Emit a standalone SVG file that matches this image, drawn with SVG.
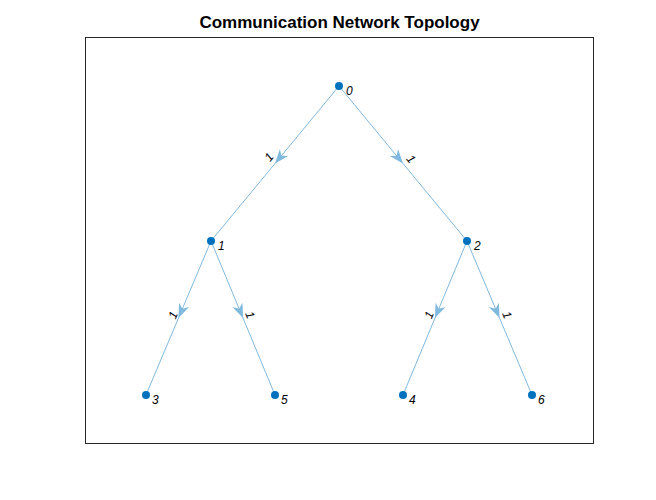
<svg xmlns="http://www.w3.org/2000/svg" width="656" height="500" viewBox="0 0 656 500">
<style>
.edge{fill:none;stroke:#80B9DE;stroke-width:1;marker-mid:url(#arr)}
.node{fill:#0072BD}
.nl{font-family:"Liberation Sans",Arial,sans-serif;font-size:12px;font-style:italic;fill:#000}
.el{font-family:"Liberation Sans",Arial,sans-serif;font-size:12px;font-style:italic;fill:#000;text-anchor:middle;dominant-baseline:central}
.title{font-family:"Liberation Sans",Arial,sans-serif;font-size:17px;font-weight:bold;fill:#000;text-anchor:middle}
</style>
<defs>
<marker id="arr" markerUnits="userSpaceOnUse" markerWidth="20" markerHeight="20" viewBox="-12 -6 14 12" refX="0" refY="0" orient="auto" overflow="visible">
<path d="M0,0 L-10,-3.8 L-7,0 L-10,3.8 Z" fill="#80B9DE"/>
</marker>
</defs>
<rect width="656" height="500" fill="#fff"/>
<rect x="85.5" y="37.5" width="508" height="406" fill="#fff" stroke="#262626" stroke-width="1"/>
<text class="title" x="339.5" y="28">Communication Network Topology</text>
<g id="connectors">
<path class="edge" d="M339,86 L275,163.5 L211,241"/>
<path class="edge" d="M339,86 L403,163.5 L467,241"/>
<path class="edge" d="M211,241 L178.5,318 L146,395"/>
<path class="edge" d="M211,241 L243,318 L275,395"/>
<path class="edge" d="M467,241 L435,318 L403,395"/>
<path class="edge" d="M467,241 L499.5,318 L532,395"/>
<text class="el" transform="translate(269,157) rotate(-50.3)">1</text>
<text class="el" transform="translate(411,159) rotate(50.3)">1</text>
<text class="el" transform="translate(173,315) rotate(-67.1)">1</text>
<text class="el" transform="translate(250,315) rotate(67.4)">1</text>
<text class="el" transform="translate(429,315) rotate(-67.4)">1</text>
<text class="el" transform="translate(507,315) rotate(67.1)">1</text>
</g>
<g id="node0"><circle class="node" cx="339" cy="86" r="4"/><text class="nl" x="346" y="95">0</text></g>
<g id="node1"><circle class="node" cx="211" cy="241" r="4"/><text class="nl" x="218" y="250">1</text></g>
<g id="node2"><circle class="node" cx="467" cy="241" r="4"/><text class="nl" x="474" y="250">2</text></g>
<g id="node3"><circle class="node" cx="146" cy="395" r="4"/><text class="nl" x="152" y="404">3</text></g>
<g id="node5"><circle class="node" cx="275" cy="395" r="4"/><text class="nl" x="281" y="404">5</text></g>
<g id="node4"><circle class="node" cx="403" cy="395" r="4"/><text class="nl" x="409" y="404">4</text></g>
<g id="node6"><circle class="node" cx="532" cy="395" r="4"/><text class="nl" x="538" y="404">6</text></g>
</svg>
